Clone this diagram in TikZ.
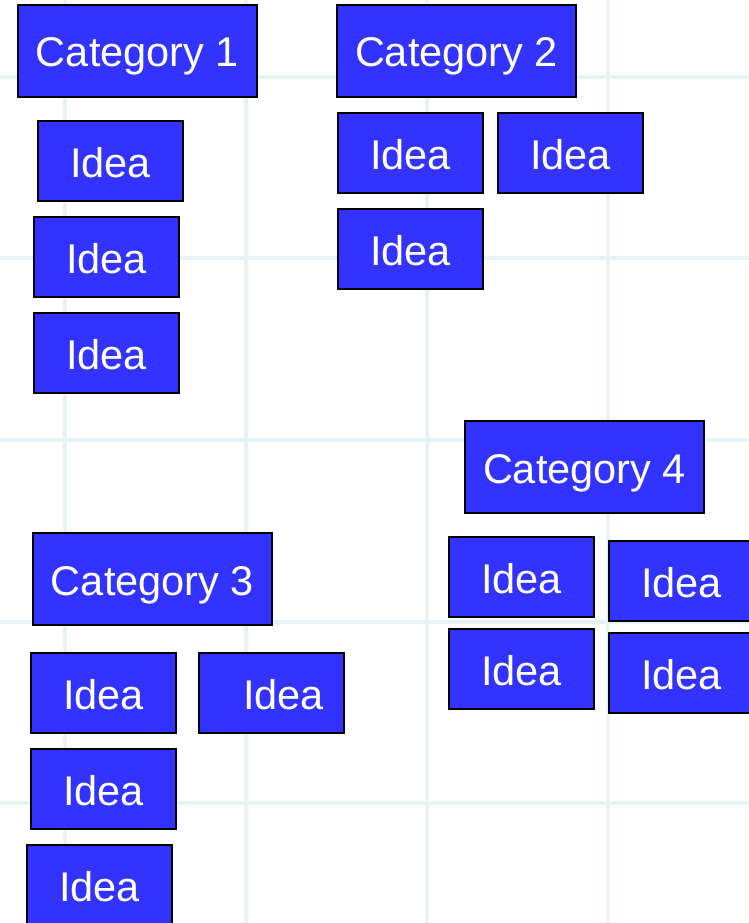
\documentclass[tikz,border=0pt]{standalone}
\usepackage{fontspec}
\setmainfont{Liberation Sans}
\definecolor{boxblue}{RGB}{51,51,255}
\definecolor{gridblue}{RGB}{232,243,246}
\tikzset{
  base/.style={draw=black, line width=1.8pt, fill=boxblue, text=white, inner sep=0pt,
    font=\fontsize{41.5}{45}\selectfont, text height=32pt, text depth=0pt},
  catbox/.style={base, minimum width=239pt, minimum height=92pt},
  ideabox/.style={base, minimum width=145pt, minimum height=80pt},
  gridline/.style={draw=gridblue, line width=4pt}
}
\begin{document}
\begin{tikzpicture}[x=1pt,y=-1pt]
\useasboundingbox (0,0) rectangle (749,923);
\fill[white] (0,0) rectangle (749,923);
\foreach \gx in {65,246,427,608} \draw[gridline] (\gx,0) -- (\gx,923);
\foreach \gy in {77,258,440,622,803} \draw[gridline] (0,\gy) -- (749,\gy);

\node[catbox] (c1) at (137.5,51) {Category 1};
\node[ideabox] (c1a) at (110.5,161) {Idea};
\node[ideabox] (c1b) at (106.5,257) {Idea};
\node[ideabox] (c1c) at (106.5,353) {Idea};

\node[catbox] (c2) at (456.5,51) {Category 2};
\node[ideabox] (c2a) at (410.5,153) {Idea};
\node[ideabox] (c2b) at (570.5,153) {Idea};
\node[ideabox] (c2c) at (410.5,249) {Idea};

\node[catbox] (c4) at (584.5,467) {Category 4};
\node[ideabox] (c4a) at (521.5,577) {Idea};
\node[ideabox] (c4b) at (681.5,581) {Idea};
\node[ideabox] (c4c) at (521.5,669) {Idea};
\node[ideabox] (c4d) at (681.5,673) {Idea};

\node[catbox] (c3) at (152.5,579) {Category 3};
\node[ideabox] (c3a) at (103.5,693) {Idea};
\node[ideabox] (c3b) at (271.5,693) {\hspace*{24pt}Idea};
\node[ideabox] (c3c) at (103.5,789) {Idea};
\node[ideabox] (c3d) at (99.5,885) {Idea};
\end{tikzpicture}
\end{document}
